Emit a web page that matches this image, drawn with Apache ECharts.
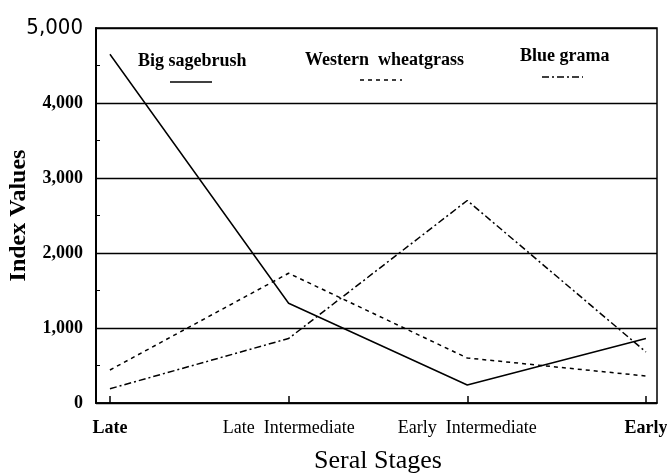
<!DOCTYPE html>
<html lang="en">
<head>
    <meta charset="UTF-8">
    <title>Seral Stages</title>
    <script src="https://cdn.jsdelivr.net/npm/echarts@6/dist/echarts.min.js"></script>
</head>
<body style="margin:0;background:#fff;">
<div id="main" style="width:667px;height:475px;"></div>
<script>
    // categories on the x axis
    var stages = ['Late', 'Late  Intermediate', 'Early  Intermediate', 'Early'];
    // index values
    var bigSagebrush = [4650, 1330, 240, 860];
    var westernWheatgrass = [440, 1730, 600, 360];
    var blueGrama = [190, 860, 2700, 680];
    var yTicks = [0, 1000, 2000, 3000, 4000, 5000];

    var serif = '"Liberation Serif", "DejaVu Serif", "Times New Roman", serif';

    function toPoints(arr) {
        return arr.map(function (v, i) { return [i, v]; });
    }

    var myChart = echarts.init(document.getElementById('main'));

    function legendAt(name, left, top) {
        return {
            data: [name],
            left: left,
            top: top,
            icon: 'none',
            itemWidth: 0,
            itemGap: 0,
            selectedMode: false,
            formatter: function (n) { return n.replace(' ', n === 'Western wheatgrass' ? '  ' : ' '); },
            textStyle: {fontFamily: serif, fontWeight: 'bold', fontSize: 18, color: '#000'}
        };
    }

    // little line samples under the legend texts
    function sample(x1, x2, y, dash) {
        return {
            type: 'line',
            shape: {x1: x1, y1: y, x2: x2, y2: y},
            style: {stroke: '#000', lineWidth: 1.5, lineDash: dash}
        };
    }

    var option = {
        animation: false,
        backgroundColor: '#fff',
        legend: [
            legendAt('Big sagebrush', 128, 47),
            legendAt('Western wheatgrass', 295, 46),
            legendAt('Blue grama', 510, 42)
        ],
        graphic: [
            sample(170, 212, 82, null),
            sample(360, 402, 80, [4, 4]),
            sample(542, 583, 77, [7, 3, 2, 3])
        ],
        grid: [
            {left: 96, right: 10, top: 28, bottom: 72, outerBoundsMode: 'none', show: true, borderColor: '#000', borderWidth: 1.5},
            {left: 110, right: 21, top: 28, bottom: 72, outerBoundsMode: 'none'}
        ],
        xAxis: [
            {
                type: 'value',
                gridIndex: 0,
                min: -0.078,
                max: 3.062,
                axisLine: {show: true, onZero: false, lineStyle: {color: '#000', width: 1.5}},
                axisTick: {show: false},
                axisLabel: {show: false},
                splitLine: {show: false}
            },
            {
                type: 'category',
                gridIndex: 1,
                data: stages,
                boundaryGap: false,
                axisLine: {show: false},
                axisTick: {show: true, inside: true, length: 7, lineStyle: {color: '#000', width: 1.5}},
                axisLabel: {
                    margin: 16,
                    interval: 0,
                    formatter: function (value, index) {
                        if (index === 0 || index === stages.length - 1) {
                            return '{b|' + value + '}';
                        }
                        return '{r|' + value + '}';
                    },
                    rich: {
                        b: {fontFamily: serif, fontWeight: 'bold', fontSize: 18, color: '#000'},
                        r: {fontFamily: serif, fontSize: 18, color: '#000'}
                    }
                },
                name: 'Seral Stages',
                nameLocation: 'middle',
                nameGap: 45,
                nameMoveOverlap: false,
                nameTextStyle: {fontFamily: serif, fontSize: 26, color: '#000'}
            }
        ],
        yAxis: [
            {
                type: 'value',
                gridIndex: 0,
                min: 0,
                max: 5000,
                interval: 1000,
                axisLine: {show: true, onZero: false, lineStyle: {color: '#000', width: 2}},
                axisTick: {show: true, inside: true, length: 4, lineStyle: {color: '#000'}},
                minorTick: {show: true, splitNumber: 2, length: 4, lineStyle: {color: '#000', width: 1}},
                splitLine: {show: true, lineStyle: {color: '#000', width: 1.3}},
                axisLabel: {
                    margin: 13,
                    customValues: yTicks,
                    formatter: function (v) {
                        var s = v.toLocaleString('en-US');
                        return v === 5000 ? '{big|' + s + '}' : '{n|' + s + '}';
                    },
                    rich: {
                        n: {fontFamily: serif, fontWeight: 'bold', fontSize: 18, color: '#000'},
                        big: {fontFamily: '"DejaVu Sans Condensed", "Liberation Sans Narrow", sans-serif', fontSize: 22, color: '#000'}
                    }
                },
                name: 'Index Values',
                nameLocation: 'middle',
                nameGap: 65,
                nameMoveOverlap: false,
                nameTextStyle: {fontFamily: serif, fontWeight: 'bold', fontSize: 24, color: '#000'}
            },
            {
                type: 'value',
                gridIndex: 1,
                min: 0,
                max: 5000,
                show: false
            }
        ],
        series: [
            {
                name: 'Big sagebrush',
                type: 'line',
                xAxisIndex: 0,
                yAxisIndex: 0,
                data: toPoints(bigSagebrush),
                symbol: 'none',
                lineStyle: {color: '#000', width: 1.5, type: 'solid'},
                itemStyle: {color: '#000'}
            },
            {
                name: 'Western wheatgrass',
                type: 'line',
                xAxisIndex: 0,
                yAxisIndex: 0,
                data: toPoints(westernWheatgrass),
                symbol: 'none',
                lineStyle: {color: '#000', width: 1.5, type: [4, 4]},
                itemStyle: {color: '#000'}
            },
            {
                name: 'Blue grama',
                type: 'line',
                xAxisIndex: 0,
                yAxisIndex: 0,
                data: toPoints(blueGrama),
                symbol: 'none',
                lineStyle: {color: '#000', width: 1.5, type: [7, 3, 2, 3]},
                itemStyle: {color: '#000'}
            }
        ]
    };

    myChart.setOption(option);
</script>
</body>
</html>
